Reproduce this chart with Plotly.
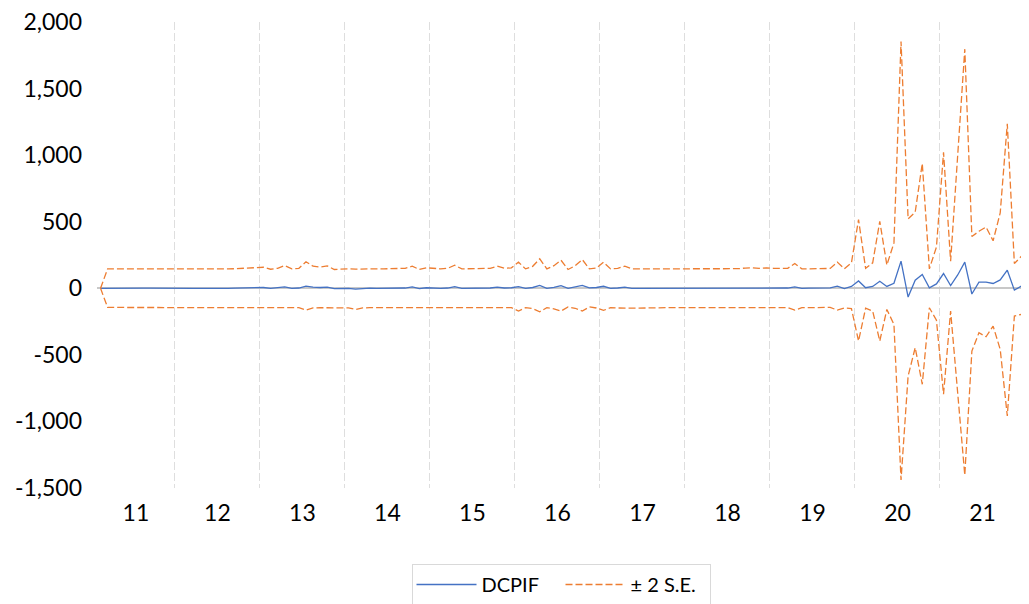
import pandas as pd
import plotly.graph_objects as go

# Monthly observations 2011M02 .. 2021M12
periods = pd.period_range("2011-02", "2021-12", freq="M")

dcpif = [
    0, 1, 1, 1, 0, 1, 1, 1, 0, 1, 1,                      # 2011 (Feb-Dec)
    1, 1, 0, 0, -1, 0, 1, 0, 1, 2, 3, 4,                  # 2012
    6, -1, 3, 10, 0, 2, 16, 8, 6, 9, -2, 0,               # 2013
    -1, -6, 0, 1, 0, 0, 1, 0, 2, 10, -3, 4,               # 2014
    1, 0, 2, 12, 0, 0, 1, 0, 2, 8, 2, 4,                  # 2015
    13, 0, 6, 22, 0, 7, 20, 0, 10, 22, 3, 6,              # 2016
    15, 0, 2, 8, -1, -1, -1, 0, 0, 0, 1, 1,               # 2017
    1, 1, 0, 0, 1, 1, 1, 1, 2, 2, 1, 3,                   # 2018
    2, 1, 2, 10, 0, 1, 1, 2, 3, 16, -2, 14,               # 2019
    55, 4, 14, 53, 14, 38, 204, -66, 61, 104, 4, 33,      # 2020
    111, 21, 100, 196, -43, 46, 46, 36, 63, 136, -14, 18, # 2021
]

upper_2se = [
    0, 146, 146, 146, 146, 146, 146, 146, 146, 146, 146,
    146, 146, 145, 144, 141, 143, 146, 146, 147, 148, 150, 155,
    158, 143, 150, 171, 146, 150, 199, 166, 160, 168, 141, 146,
    146, 144, 146, 147, 146, 146, 147, 146, 150, 166, 141, 154,
    148, 146, 150, 173, 146, 146, 148, 146, 150, 166, 150, 154,
    196, 146, 165, 221, 146, 170, 211, 141, 170, 216, 146, 152,
    196, 146, 150, 166, 146, 146, 146, 146, 146, 146, 147, 147,
    147, 147, 146, 146, 147, 147, 147, 147, 152, 154, 150, 154,
    150, 148, 150, 186, 146, 146, 147, 148, 149, 197, 146, 191,
    516, 150, 191, 503, 175, 341, 1853, 521, 572, 938, 146, 310,
    1021, 204, 990, 1796, 389, 428, 460, 357, 566, 1236, 186, 241,
]

lower_2se = [
    0, -144, -144, -144, -144, -144, -144, -144, -144, -144, -144,
    -144, -144, -145, -145, -146, -145, -144, -145, -145, -144, -144, -143,
    -143, -146, -144, -143, -145, -146, -164, -147, -146, -146, -147, -146,
    -147, -159, -147, -146, -146, -146, -146, -146, -146, -146, -148, -146,
    -146, -146, -146, -147, -146, -146, -146, -146, -146, -146, -146, -146,
    -171, -146, -152, -176, -146, -155, -171, -140, -150, -171, -140, -148,
    -166, -146, -148, -150, -148, -149, -148, -146, -146, -146, -145, -145,
    -145, -145, -146, -146, -145, -145, -145, -145, -144, -144, -145, -144,
    -145, -146, -145, -164, -146, -146, -145, -144, -143, -164, -148, -152,
    -396, -150, -171, -396, -159, -271, -1439, -659, -446, -721, -146, -240,
    -796, -171, -790, -1404, -472, -334, -364, -284, -459, -959, -209, -196,
]

y_tick_vals = [-1500, -1000, -500, 0, 500, 1000, 1500, 2000]
y_tick_text = ["-1,500", "-1,000", "-500", "0", "500", "1,000", "1,500", "2,000"]

series_names = ["DCPIF", "± 2 S.E."]

# positions on a category-like numeric axis
idx = list(range(len(periods)))
years = [p.year for p in periods]
uniq_years = sorted(set(years))
year_centers = []
year_bounds = []
for yv in uniq_years:
    pos = [i for i, yy in enumerate(years) if yy == yv]
    year_centers.append((pos[0] + pos[-1]) / 2)
    if yv != uniq_years[-1]:
        year_bounds.append(pos[-1] + 0.5)
year_labels = [str(yv)[-2:] for yv in uniq_years]

BLUE = "#4472C4"
ORANGE = "#ED7D31"
FONT = "Lato"
W, H = 1029, 604

fig = go.Figure()
fig.add_trace(go.Scatter(
    x=idx, y=dcpif, mode="lines", name=series_names[0],
    line=dict(color=BLUE, width=1.3),
))
fig.add_trace(go.Scatter(
    x=idx, y=upper_2se, mode="lines", name=series_names[1],
    legendgroup="se", line=dict(color=ORANGE, width=1.3, dash="7px,3px"),
))
fig.add_trace(go.Scatter(
    x=idx, y=lower_2se, mode="lines", name=series_names[1],
    legendgroup="se", showlegend=False,
    line=dict(color=ORANGE, width=1.3, dash="7px,3px"),
))

fig.update_layout(
    width=W, height=H,
    margin=dict(l=89, r=12, t=14, b=124, autoexpand=False),
    paper_bgcolor="white", plot_bgcolor="white",
    font=dict(family=FONT, color="#000000"),
    showlegend=True,
    legend=dict(
        orientation="h",
        xref="container", x=553 / W, xanchor="center",
        yref="container", y=(H - 556) / H, yanchor="top",
        bordercolor="#d9d9d9", borderwidth=1,
        font=dict(size=20, family=FONT, color="#000000"),
        itemwidth=60, entrywidth=74,
    ),
)
fig.update_xaxes(
    range=[-0.5, len(idx) - 0.5],
    tickmode="array", tickvals=year_centers, ticktext=year_labels,
    tickfont=dict(size=23, family=FONT, color="#000000"),
    ticks="", showgrid=False, zeroline=False, showline=False,
    ticklabelstandoff=9, automargin=False, ticklabeloverflow="allow",
    minor=dict(tickmode="array", tickvals=year_bounds, showgrid=True,
               gridcolor="#dedede", gridwidth=1, griddash="8px,3px", ticks=""),
)
fig.update_yaxes(
    range=[-1500, 2000],
    tickmode="array", tickvals=y_tick_vals, ticktext=y_tick_text,
    tickfont=dict(size=23, family=FONT, color="#000000"),
    ticks="", showgrid=False, showline=False, automargin=False,
    ticklabeloverflow="allow",
    zeroline=True, zerolinecolor="#c8c8c8", zerolinewidth=1.5,
    ticklabelstandoff=14,
)

fig.write_html("out.html")
